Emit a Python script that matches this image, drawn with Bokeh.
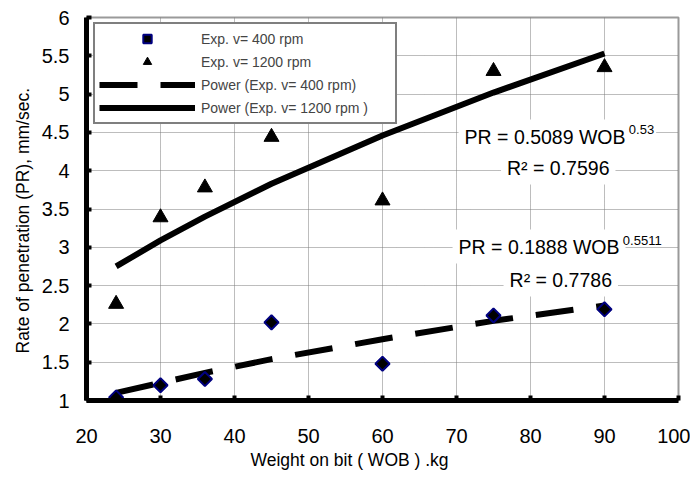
import math
from bokeh.plotting import figure
from bokeh.models import Label, Legend, LegendItem, FixedTicker, Title
from bokeh.embed import file_html
from bokeh.resources import INLINE

# ---- data ----
wob = [24, 30, 36, 45, 60, 75, 90]
pr_400 = [1.04, 1.20, 1.28, 2.02, 1.48, 2.11, 2.19]
pr_1200 = [2.26, 3.39, 3.78, 4.44, 3.61, 5.30, 5.35]
fit_400 = [1.10, 1.23, 1.36, 1.54, 1.80, 2.04, 2.24]
fit_1200 = [2.75, 3.09, 3.40, 3.83, 4.46, 5.02, 5.53]
x_ticks = [20, 30, 40, 50, 60, 70, 80, 90, 100]
y_ticks = [1, 1.5, 2, 2.5, 3, 3.5, 4, 4.5, 5, 5.5, 6]
y_tick_labels = ["1", "1.5", "2", "2.5", "3", "3.5", "4", "4.5", "5", "5.5", "6"]
x_title = "Weight on bit ( WOB ) .kg"
y_title = "Rate of penetration (PR), mm/sec."
eq1_main, eq1_sup, eq1_r2 = "PR = 0.5089 WOB", "0.53", "R\u00b2 = 0.7596"
eq2_main, eq2_sup, eq2_r2 = "PR = 0.1888 WOB", "0.5511", "R\u00b2 = 0.7786"
labels = ["Exp. v= 400 rpm", "Exp. v= 1200 rpm",
          "Power (Exp. v= 400 rpm)", "Power (Exp. v= 1200 rpm )"]

FONT = "Liberation Sans, Arial"

p = figure(width=690, height=476, x_range=(20, 100), y_range=(1, 6),
           output_backend="svg", toolbar_location=None,
           min_border_left=86, min_border_right=12, min_border_top=17,
           min_border_bottom=76)
p.background_fill_color = "white"
p.border_fill_color = "white"
p.outline_line_color = "#9a9a9a"
p.outline_line_width = 2

for ax in (p.xaxis[0], p.yaxis[0]):
    ax.axis_line_color = "black"
    ax.axis_line_width = 5
    ax.major_tick_in = 5
    ax.major_tick_out = 0
    ax.major_tick_line_width = 4
    ax.major_tick_line_color = "black"
    ax.minor_tick_line_color = None
    ax.major_label_text_font = FONT
    ax.major_label_text_font_size = "20px"
    ax.major_label_text_color = "black"

p.xaxis.ticker = FixedTicker(ticks=x_ticks)
p.yaxis.ticker = FixedTicker(ticks=y_ticks)
p.yaxis.major_label_overrides = {t: s for t, s in zip(y_ticks, y_tick_labels)}
p.xaxis.major_label_standoff = 28
p.yaxis.major_label_standoff = 17

# Axis titles as side-panel titles (lets them sit off-centre as in the reference)
p.add_layout(Title(text=x_title, align="left", offset=164, standoff=5,
                   text_font=FONT, text_font_size="17.5px",
                   text_font_style="normal", text_color="black"), "below")
p.add_layout(Title(text=y_title, align="left", offset=47, standoff=12,
                   text_font=FONT, text_font_size="17.5px",
                   text_font_style="normal", text_color="black"), "left")

p.xgrid.ticker = FixedTicker(ticks=x_ticks)
p.ygrid.ticker = FixedTicker(ticks=y_ticks)
for g in (p.xgrid[0], p.ygrid[0]):
    g.grid_line_color = "#7a7a7a"
    g.grid_line_dash = "1 1"
    g.grid_line_width = 1

r_fit400 = p.line(wob, fit_400, line_color="black", line_width=6,
                  line_dash="38 23", line_cap="butt")
r_fit1200 = p.line(wob, fit_1200, line_color="black", line_width=6)
r400 = p.scatter(wob, pr_400, marker="square", size=10, angle=math.pi / 4,
                 fill_color="black", line_color="#000080", line_width=2)
r1200 = p.scatter(wob, pr_1200, marker="triangle", size=15, fill_color="black",
                  line_color="black")

# Equation annotations (white boxes hide the grid behind them)
def lab(x, y, text, size, align, pad):
    l = Label(x=x, y=y, text=text, text_font=FONT, text_font_size=size,
              text_align=align, text_baseline="alphabetic", text_color="black",
              background_fill_color="white", padding=pad)
    p.add_layout(l)

lab(70.28, 4.446, eq1_main, "19.5px", "left", 6)
lab(83.75, 4.041, eq1_r2, "19.5px", "center", 6)
lab(69.47, 3.010, eq2_main, "19.5px", "left", 6)
lab(84.09, 2.579, eq2_r2, "19.5px", "center", 6)
lab(93.02, 4.538, eq1_sup, "13px", "left", 2)
lab(92.21, 3.089, eq2_sup, "13px", "left", 2)

legend = Legend(items=[LegendItem(label=labels[0], renderers=[r400]),
                       LegendItem(label=labels[1], renderers=[r1200]),
                       LegendItem(label=labels[2], renderers=[r_fit400]),
                       LegendItem(label=labels[3], renderers=[r_fit1200])],
                location=(7, 276), orientation="vertical")
legend.glyph_width = 96
legend.glyph_height = 21
legend.label_height = 21
legend.label_width = 190
legend.spacing = 2
legend.padding = 4
legend.margin = 0
legend.label_standoff = 6
legend.label_text_font = FONT
legend.label_text_font_size = "14px"
legend.border_line_color = "black"
legend.border_line_width = 2
legend.background_fill_color = "white"
legend.background_fill_alpha = 1
p.add_layout(legend, "center")

open("out.html", "w").write(file_html(p, INLINE))
